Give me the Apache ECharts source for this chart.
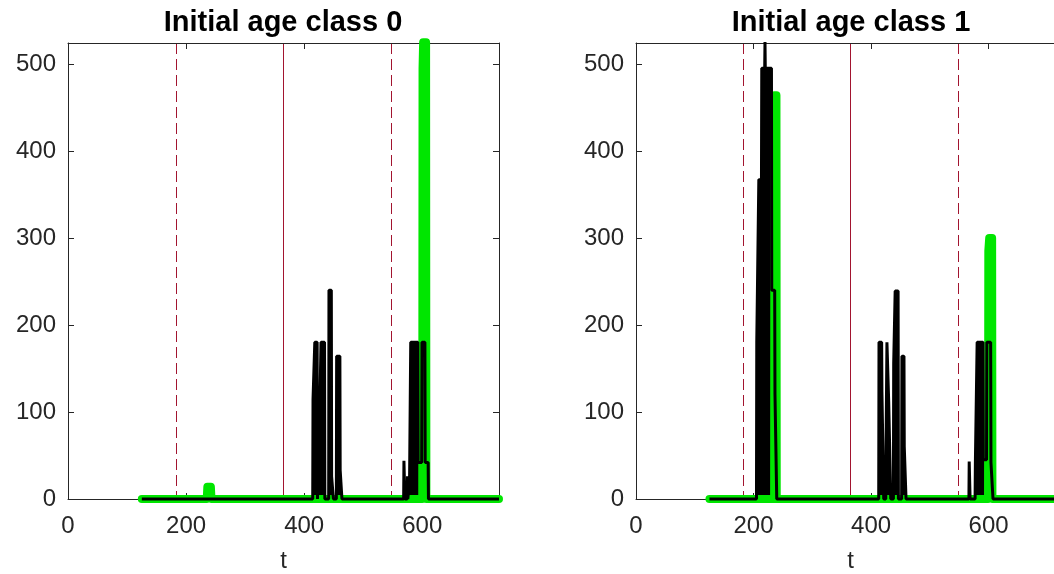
<!DOCTYPE html>
<html>
<head>
<meta charset="utf-8">
<script src="https://cdn.jsdelivr.net/npm/echarts@6/dist/echarts.min.js"></script>
<style>
  html, body { margin: 0; padding: 0; background: #fff; }
  #chart { width: 1054px; height: 574px; }
</style>
</head>
<body>
<div id="chart"></div>
<script>
// values
const titles = ['Initial age class 0', 'Initial age class 1'];
const tMax = 730;
const yMax = 524;
const redSolidStep = 365;   // solid red lines at 0 and 365
const redDashedStep = 182.5; // dashed red lines at 182.5 and 547.5

// age class 0
const green0 = [[125, 0], [235, 0], [236, 14], [242, 14], [243, 0],
  [600, 0], [600.5, 495], [601.5, 525], [606.5, 525], [607, 0], [730, 0]];
const black0 = [[125, 0],
  [414.5, 0], [415, 114], [417.5, 114], [418, 180], [422, 180], [422.5, 0],
  [424.5, 0], [425, 60], [426, 60], [426.5, 100], [428, 100], [428.5, 180], [434.5, 180], [435, 0],
  [441.5, 0], [442, 240], [446, 240], [446.5, 26], [449, 26], [449.5, 0],
  [454.5, 0], [455, 164], [460.5, 164], [461, 33], [463.5, 33], [464, 0],
  [568.5, 0], [569, 44], [570, 44], [570.5, 0],
  [574.5, 0], [575, 26], [575.5, 0],
  [578, 0], [578.5, 20], [580, 20], [580.5, 180], [592.5, 180], [593, 42], [599, 42],
  [599.5, 180], [604.5, 180], [605, 42], [610, 42], [610.5, 0],
  [730, 0]];

// age class 1
const green1 = [[125, 0], [235, 0], [235.5, 464], [239, 464], [239.5, 0],
  [599, 0], [599.5, 285], [601, 300], [606, 300], [606.5, 0], [730, 0]];
const black1 = [[125, 0],
  [205, 0], [205.5, 180], [208.5, 180], [209, 367], [213.5, 367], [214, 495], [219, 495],
  [219.5, 525], [220, 495], [230.5, 495], [231, 240], [236, 240], [236.5, 120], [239, 120], [239.5, 0],
  [413, 0], [413.5, 180], [418, 180], [418.5, 123], [421, 123], [421.5, 0],
  [425, 0], [425.5, 60], [426.5, 60], [427, 180], [429.5, 180], [430, 112], [433, 112], [433.5, 0],
  [438, 0], [438.5, 156], [440.5, 156], [441, 239], [446, 239], [446.5, 0],
  [452, 0], [452.5, 164], [456, 164], [456.5, 60], [459, 60], [459.5, 0],
  [566.5, 0], [567, 43], [568, 43], [568.5, 0],
  [577, 0], [577.5, 42], [580, 42], [580.5, 180], [590.5, 180], [591, 45], [596.5, 45],
  [597, 180], [603.5, 180], [604, 42], [607, 42], [607.5, 0],
  [730, 0]];

const axisColor = '#262626';
const font = 'Liberation Sans';
const red = '#a2142f';

const chart = echarts.init(document.getElementById('chart'));

function xAxis(grid, pos) {
  const bottom = pos === 'bottom';
  return {
    gridIndex: grid, type: 'value', position: pos, min: 0, max: tMax, interval: 200,
    name: bottom ? 't' : '', nameLocation: 'middle', nameGap: 50,
    nameTextStyle: { fontSize: 24, color: axisColor, fontFamily: font },
    axisLine: { onZero: false, lineStyle: { color: axisColor, width: 1 } },
    axisTick: { inside: true, length: 6, lineStyle: { color: axisColor } },
    axisLabel: {
      show: bottom, fontSize: 24, color: axisColor, fontFamily: font, margin: 15,
      formatter: v => (v % 200 === 0 ? v : '')
    },
    splitLine: { show: false }
  };
}
// hidden axis that only draws the red vertical lines as split lines
function redAxis(grid, step, type) {
  return {
    gridIndex: grid, type: 'value', position: 'bottom', min: 0, max: tMax, interval: step,
    axisLine: { show: false }, axisTick: { show: false }, axisLabel: { show: false },
    splitLine: {
      show: true, showMinLine: true, showMaxLine: false,
      lineStyle: { color: red, width: 1, type: type }
    }
  };
}
function yAxis(grid, pos) {
  const left = pos === 'left';
  return {
    gridIndex: grid, type: 'value', position: pos, min: 0, max: yMax, interval: 100,
    axisLine: { onZero: false, lineStyle: { color: axisColor, width: 1 } },
    axisTick: { inside: true, length: 6, lineStyle: { color: axisColor } },
    axisLabel: {
      show: left, fontSize: 24, color: axisColor, fontFamily: font, margin: 12,
      formatter: v => (v % 100 === 0 ? v : '')
    },
    splitLine: { show: false }
  };
}

function panel(i, green, black) {
  return [
    {
      type: 'line', xAxisIndex: i * 2, yAxisIndex: i * 2, data: green, symbol: 'none',
      clip: false, color: '#00e600',
      lineStyle: { color: '#00e600', width: 8, cap: 'round', join: 'round' },
      areaStyle: { color: '#00e600', opacity: 1 }
    },
    {
      type: 'line', xAxisIndex: i * 2, yAxisIndex: i * 2, data: black, symbol: 'none',
      clip: false, color: '#000',
      lineStyle: { color: '#000', width: 3, join: 'bevel' },
      areaStyle: { color: '#000', opacity: 1 }
    }
  ];
}

const option = {
  animation: false,
  backgroundColor: '#fff',
  grid: [
    { left: 68, top: 43, width: 431, height: 456, outerBoundsMode: 'none' },
    { left: 636, top: 43, width: 429, height: 456, outerBoundsMode: 'none' }
  ],
  xAxis: [xAxis(0, 'bottom'), xAxis(0, 'top'), xAxis(1, 'bottom'), xAxis(1, 'top'),
    redAxis(0, redDashedStep, [11, 5]), redAxis(0, redSolidStep, 'solid'),
    redAxis(1, redDashedStep, [11, 5]), redAxis(1, redSolidStep, 'solid')],
  yAxis: [yAxis(0, 'left'), yAxis(0, 'right'), yAxis(1, 'left'), yAxis(1, 'right')],
  graphic: titles.map((t, i) => ({
    type: 'text', x: i === 0 ? 283 : 851, y: 23,
    style: {
      text: t, fill: '#000', fontSize: 29, fontWeight: 'bold', fontFamily: font,
      align: 'center', verticalAlign: 'middle'
    }
  })),
  series: panel(0, green0, black0).concat(panel(1, green1, black1))
};

chart.setOption(option);
</script>
</body>
</html>
